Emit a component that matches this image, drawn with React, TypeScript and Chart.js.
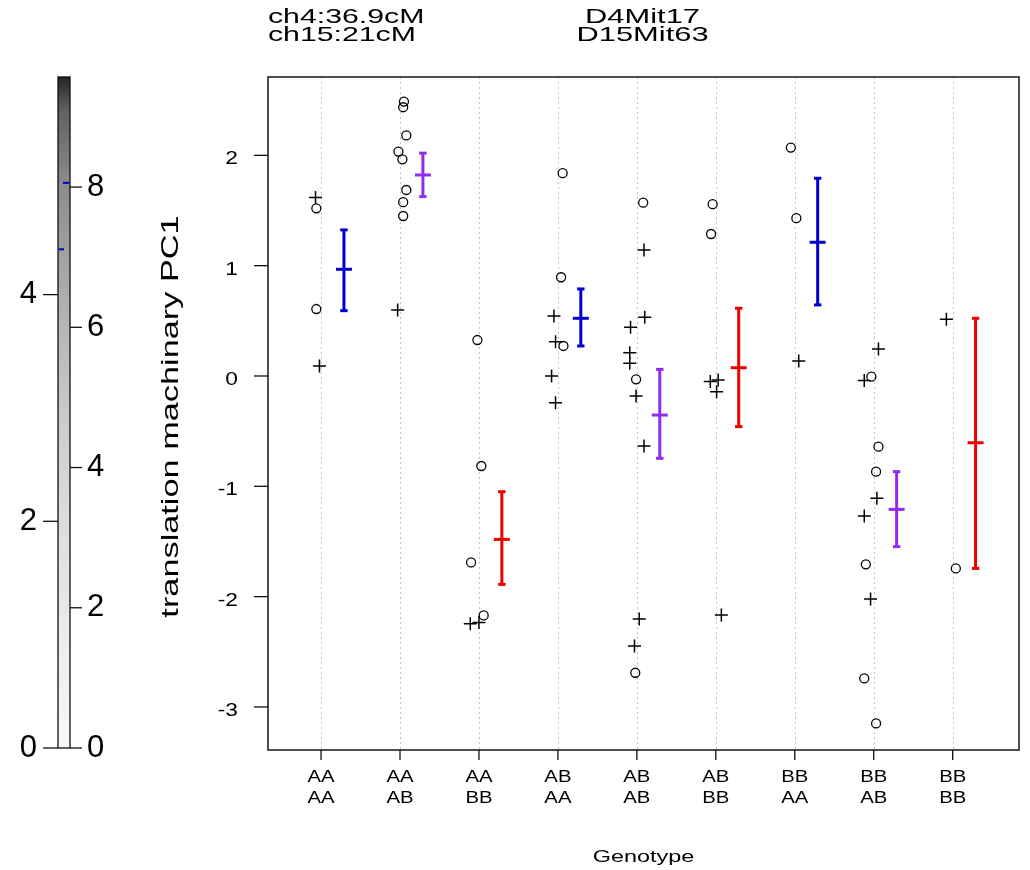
import React, { useEffect, useRef } from "react";
import { Chart, registerables } from "chart.js";

Chart.register(...registerables);

// ---- data ----
const chr4Geno = ["AA", "AA", "AA", "AB", "AB", "AB", "BB", "BB", "BB"];
const chr15Geno = ["AA", "AB", "BB", "AA", "AB", "BB", "AA", "AB", "BB"];
const yTicks = [-3, -2, -1, 0, 1, 2];

// open circles (x = category index + jitter)
const circleX = [
  0.94, 0.94,
  2.05, 2.04, 2.08, 1.98, 2.03, 2.08, 2.04, 2.04,
  2.98, 3.03, 2.9, 3.06,
  4.06, 4.04, 4.07,
  5.08, 4.99, 4.98,
  5.96, 5.94,
  6.95, 7.02,
  7.97, 8.06, 8.03, 7.9, 7.88, 8.03,
  9.04,
];
const circleY = [
  1.52, 0.607,
  2.487, 2.436, 2.18, 2.034, 1.964, 1.686, 1.575, 1.45,
  0.326, -0.816, -1.69, -2.17,
  1.838, 0.895, 0.272,
  1.571, -0.03, -2.69,
  1.557, 1.287,
  2.07, 1.43,
  -0.006, -0.641, -0.867, -1.707, -2.741, -3.149,
  -1.744,
];

// plus signs
const plusX = [
  0.93, 0.98,
  1.97,
  2.89, 3.0,
  3.95, 3.97, 3.92, 3.97,
  5.09, 5.1, 4.92, 4.91, 4.91, 4.99, 5.09, 5.03, 4.97,
  5.93, 6.03, 6.01, 6.07,
  7.05,
  8.06, 7.88, 8.04, 7.88, 7.96,
  8.92,
];
const plusY = [
  1.617, 0.09,
  0.598,
  -2.245, -2.235,
  0.544, 0.311, 0.0, -0.242,
  1.142, 0.532, 0.441, 0.211, 0.115, -0.181, -0.635, -2.203, -2.448,
  -0.05, -0.036, -0.142, -2.167,
  0.136,
  0.245, -0.042, -1.109, -1.269, -2.022,
  0.514,
];

// mean +/- SE bars
const meanY = [0.967, 1.822, -1.481, 0.523, -0.354, 0.075, 1.212, -1.209, -0.605];
const loY = [0.592, 1.626, -1.889, 0.272, -0.746, -0.459, 0.644, -1.547, -1.744];
const hiY = [1.324, 2.02, -1.049, 0.789, 0.06, 0.614, 1.792, -0.867, 0.523];
const genoColor: Record<string, string> = { AA: "#0000CD", AB: "#912CEE", BB: "#EE0000" };

const titleLeft = ["ch4:36.9cM", "ch15:21cM"];
const titleRight = ["D4Mit17", "D15Mit63"];
const yTitle = "translation machinary PC1";
const xTitle = "Genotype";

// colour bar scales
const cbLeftTicks = [0, 2, 4];
const cbRightTicks = [0, 2, 4, 6, 8];
const cbLeftMax = 5.92;
const cbRightMax = 9.57;
const cbLeftMark = 4.4;
const cbRightMark = 8.06;

// ---- style / layout constants ----
const FONT = '"Liberation Sans", Arial, Helvetica, sans-serif';
const BAR_OFFSET = 0.29;
const PLOT_LEFT = 268;
const PLOT_TOP = 77;
const PLOT_BOTTOM_SPACE = 120;

function txt(
  ctx: CanvasRenderingContext2D,
  s: string,
  x: number,
  y: number,
  size: number,
  align: CanvasTextAlign,
  baseline: CanvasTextBaseline,
  sx: number,
  rot = 0
) {
  ctx.save();
  ctx.translate(x, y);
  if (rot) ctx.rotate(rot);
  ctx.scale(sx, 1);
  ctx.font = `${size}px ${FONT}`;
  ctx.textAlign = align;
  ctx.textBaseline = baseline;
  ctx.fillStyle = "#000";
  ctx.fillText(s, 0, 0);
  ctx.restore();
}

const decor = {
  id: "decor",
  beforeDatasetsDraw(chart: any) {
    const { ctx, chartArea: a, scales } = chart;
    const x = scales.x;
    ctx.save();
    ctx.strokeStyle = "#c4c4c4";
    ctx.lineWidth = 1;
    ctx.setLineDash([2, 3]);
    chr4Geno.forEach((_, i) => {
      const px = Math.round(x.getPixelForValue(i + 1)) + 0.5;
      ctx.beginPath();
      ctx.moveTo(px, a.top);
      ctx.lineTo(px, a.bottom);
      ctx.stroke();
    });
    ctx.restore();
  },
  afterDatasetsDraw(chart: any) {
    const { ctx, chartArea: a, scales } = chart;
    const x = scales.x;
    const y = scales.y;
    const cbL = scales.cbL;
    const cbR = scales.cbR;
    ctx.save();
    // box
    ctx.strokeStyle = "#222";
    ctx.lineWidth = 1.6;
    ctx.strokeRect(a.left, a.top, a.right - a.left, a.bottom - a.top);

    // y ticks
    ctx.lineWidth = 1.3;
    ctx.strokeStyle = "#111";
    yTicks.forEach((v) => {
      const py = y.getPixelForValue(v);
      ctx.beginPath();
      ctx.moveTo(a.left - 14, py);
      ctx.lineTo(a.left, py);
      ctx.stroke();
      txt(ctx, String(v), a.left - 30, py + 9, 17.5, "right", "alphabetic", 1.3);
    });

    // x ticks + labels
    chr4Geno.forEach((g, i) => {
      const px = x.getPixelForValue(i + 1);
      ctx.beginPath();
      ctx.moveTo(px, a.bottom);
      ctx.lineTo(px, a.bottom + 10);
      ctx.stroke();
      txt(ctx, g, px, a.bottom + 32, 16, "center", "alphabetic", 1.27);
      txt(ctx, chr15Geno[i], px, a.bottom + 53, 16, "center", "alphabetic", 1.27);
    });

    const cx = (a.left + a.right) / 2;
    // axis titles
    txt(ctx, xTitle, cx, a.bottom + 112, 16.5, "center", "alphabetic", 1.42);
    txt(ctx, yTitle, 171, (a.top + a.bottom) / 2 + 3, 24.5, "center", "middle", 1.4, -Math.PI / 2);

    // top titles
    txt(ctx, titleLeft[0], a.left, a.top - 54, 21, "left", "alphabetic", 1.44);
    txt(ctx, titleLeft[1], a.left, a.top - 36, 21, "left", "alphabetic", 1.44);
    txt(ctx, titleRight[0], cx - 1, a.top - 54, 21, "center", "alphabetic", 1.47);
    txt(ctx, titleRight[1], cx - 1, a.top - 36, 21, "center", "alphabetic", 1.47);

    // colour bar
    const barL = 58;
    const barW = 12;
    const top = cbR.getPixelForValue(cbRightMax);
    const bot = cbR.getPixelForValue(0);
    const grad = ctx.createLinearGradient(0, bot, 0, top);
    grad.addColorStop(0, "#f8f8f8");
    grad.addColorStop(0.21, "#e8e8e8");
    grad.addColorStop(0.42, "#d4d4d4");
    grad.addColorStop(0.63, "#b6b6b6");
    grad.addColorStop(0.84, "#8c8c8c");
    grad.addColorStop(0.95, "#606060");
    grad.addColorStop(1, "#252525");
    ctx.fillStyle = grad;
    ctx.fillRect(barL, top, barW, bot - top);
    ctx.strokeStyle = "#111";
    ctx.lineWidth = 1.3;
    ctx.strokeRect(barL, top, barW, bot - top);

    cbLeftTicks.forEach((v) => {
      const py = cbL.getPixelForValue(v);
      ctx.beginPath();
      ctx.moveTo(43, py);
      ctx.lineTo(barL, py);
      ctx.stroke();
      txt(ctx, String(v), 37, py, 31, "right", "middle", 1);
    });
    cbRightTicks.forEach((v) => {
      const py = cbR.getPixelForValue(v);
      ctx.beginPath();
      ctx.moveTo(barL + barW, py);
      ctx.lineTo(82, py);
      ctx.stroke();
      txt(ctx, String(v), 87, py, 31, "left", "middle", 1);
    });
    // blue marks
    ctx.strokeStyle = "#0000CD";
    ctx.lineWidth = 2;
    const pr = cbR.getPixelForValue(cbRightMark);
    ctx.beginPath();
    ctx.moveTo(63, pr);
    ctx.lineTo(69, pr);
    ctx.stroke();
    const pl = cbL.getPixelForValue(cbLeftMark);
    ctx.beginPath();
    ctx.moveTo(59, pl);
    ctx.lineTo(64, pl);
    ctx.stroke();
    ctx.restore();
  },
};

function buildDatasets() {
  const ds: any[] = [];
  chr15Geno.forEach((g, i) => {
    const c = genoColor[g];
    const xv = i + 1 + BAR_OFFSET;
    ds.push({
      data: [{ x: xv, y: loY[i] }, { x: xv, y: hiY[i] }],
      showLine: true,
      borderColor: c,
      borderWidth: 3,
      pointRadius: 0,
    });
    ds.push({
      data: [{ x: xv, y: loY[i] }, { x: xv, y: hiY[i] }],
      pointStyle: "line",
      pointRadius: 3.7,
      pointBorderWidth: 3,
      pointBorderColor: c,
      borderColor: c,
    });
    ds.push({
      data: [{ x: xv, y: meanY[i] }],
      pointStyle: "line",
      pointRadius: 8,
      pointBorderWidth: 3,
      pointBorderColor: c,
      borderColor: c,
    });
  });
  ds.push({
    data: circleX.map((v, i) => ({ x: v, y: circleY[i] })),
    pointStyle: "circle",
    pointRadius: 4.5,
    pointBorderWidth: 1.3,
    pointBorderColor: "#000",
    pointBackgroundColor: "rgba(0,0,0,0)",
  });
  ds.push({
    data: plusX.map((v, i) => ({ x: v, y: plusY[i] })),
    pointStyle: "cross",
    pointRadius: 6.5,
    pointBorderWidth: 1.5,
    pointBorderColor: "#000",
  });
  return ds;
}

export default function App() {
  const ref = useRef<HTMLCanvasElement>(null);
  useEffect(() => {
    const canvas = ref.current;
    if (!canvas) return;
    const chart = new Chart(canvas, {
      type: "scatter",
      data: { datasets: buildDatasets() },
      options: {
        animation: false,
        responsive: false,
        events: [],
        layout: { padding: { left: 0, top: PLOT_TOP, right: 2, bottom: 0 } },
        plugins: { legend: { display: false }, tooltip: { enabled: false } },
        scales: {
          x: {
            type: "linear",
            min: 0.328,
            max: 9.84,
            ticks: { display: false },
            grid: { display: false },
            border: { display: false },
            afterBuildTicks: (s: any) => {
              s.ticks = chr4Geno.map((_, i) => ({ value: i + 1 }));
            },
            afterFit: (s: any) => {
              s.height = PLOT_BOTTOM_SPACE;
            },
          },
          y: {
            type: "linear",
            position: "left",
            min: -3.39,
            max: 2.71,
            ticks: { display: false },
            grid: { display: false },
            border: { display: false },
            afterBuildTicks: (s: any) => {
              s.ticks = yTicks.map((v) => ({ value: v }));
            },
            afterFit: (s: any) => {
              s.width = PLOT_LEFT;
            },
          },
          cbL: {
            type: "linear",
            position: "left",
            display: false,
            min: -(2 * cbLeftMax) / 671,
            max: cbLeftMax,
          },
          cbR: {
            type: "linear",
            position: "left",
            display: false,
            min: -(2 * cbRightMax) / 671,
            max: cbRightMax,
          },
        },
      } as any,
      plugins: [decor],
    });
    return () => chart.destroy();
  }, []);
  return (
    <div style={{ position: "absolute", left: 0, top: 0, width: 1030, height: 870, background: "#fff" }}>
      <canvas ref={ref} width={1030} height={870} style={{ display: "block", width: 1030, height: 870 }} />
    </div>
  );
}
